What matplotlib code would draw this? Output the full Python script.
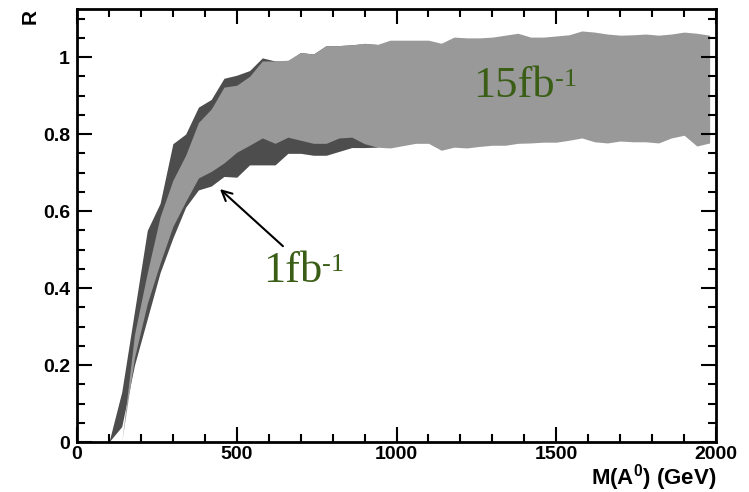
import numpy as np
import matplotlib
matplotlib.use("Agg")
from matplotlib import pyplot as plt
from matplotlib.ticker import MultipleLocator

# band edges, 40 GeV steps
mass_1fb = [100, 140, 180, 220, 260, 300, 340, 380, 420, 460, 500, 540, 580, 620,
            660, 700, 740, 780, 820, 860, 900, 940]
lo_1fb = [0.0, 0.04, 0.20, 0.32, 0.44, 0.53, 0.61, 0.655, 0.665, 0.69, 0.688, 0.72,
          0.72, 0.72, 0.75, 0.75, 0.745, 0.745, 0.755, 0.765, 0.765, 0.766]
hi_1fb = [0.0, 0.13, 0.34, 0.55, 0.62, 0.775, 0.80, 0.87, 0.89, 0.945, 0.953, 0.965,
          0.998, 0.99, 0.99, 1.012, 1.008, 1.03, 1.03, 1.032, 1.035, 1.033]

mass_15fb = [140, 180, 220, 260, 300, 340, 380, 420, 460, 500, 540, 580, 620, 660,
             700, 740, 780, 820, 860, 900, 940, 980, 1020, 1060, 1100, 1140, 1180,
             1220, 1260, 1300, 1340, 1380, 1420, 1460, 1500, 1540, 1580, 1620, 1660,
             1700, 1740, 1780, 1820, 1860, 1900, 1940, 1980]
lo_15fb = [0.0, 0.22, 0.36, 0.465, 0.56, 0.625, 0.686, 0.703, 0.725, 0.753, 0.771,
           0.79, 0.776, 0.792, 0.784, 0.776, 0.776, 0.79, 0.792, 0.775, 0.766, 0.764,
           0.77, 0.776, 0.776, 0.758, 0.766, 0.764, 0.768, 0.771, 0.771, 0.776, 0.777,
           0.779, 0.779, 0.784, 0.79, 0.78, 0.777, 0.782, 0.78, 0.78, 0.777, 0.79,
           0.797, 0.769, 0.777]
hi_15fb = [0.0, 0.28, 0.44, 0.585, 0.68, 0.745, 0.83, 0.865, 0.922, 0.927, 0.95,
           0.99, 0.99, 0.992, 1.012, 1.008, 1.03, 1.03, 1.032, 1.036, 1.033, 1.044,
           1.044, 1.044, 1.044, 1.036, 1.052, 1.05, 1.05, 1.052, 1.057, 1.062, 1.052,
           1.052, 1.055, 1.058, 1.068, 1.065, 1.06, 1.057, 1.058, 1.06, 1.057, 1.06,
           1.065, 1.062, 1.057]

green = '#3b5e17'

fig = plt.figure(figsize=(7.49, 4.92), dpi=100)
ax = fig.add_axes([0.1028, 0.1016, 0.8532, 0.8801])

ax.fill_between(mass_1fb, lo_1fb, hi_1fb, color='#4d4d4d', linewidth=0)
ax.fill_between(mass_15fb, lo_15fb, hi_15fb, color='#999999', linewidth=0)


def lumi_label(x, y, base):
    # main text plus a plain hyphen superscript (ROOT style "-1")
    t = ax.text(x, y, base, family='Liberation Serif', fontsize=32, color=green)
    ax.annotate('-1', xy=(1.0, 0.5), xycoords=t, va='baseline', ha='left',
                family='Liberation Serif', fontsize=19, color=green)


lumi_label(1239, 0.896, '15fb')
lumi_label(582, 0.416, '1fb')
ax.annotate('', xy=(441, 0.662), xytext=(651, 0.504),
            arrowprops=dict(arrowstyle='->', color='black', lw=1.5,
                            mutation_scale=18))

ax.set_xlim(0, 2000)
ax.set_ylim(0, 1.125)
ax.xaxis.set_major_locator(MultipleLocator(500))
ax.xaxis.set_minor_locator(MultipleLocator(100))
ax.yaxis.set_minor_locator(MultipleLocator(0.05))
ax.set_yticks([0, 0.2, 0.4, 0.6, 0.8, 1.0])
ax.set_yticklabels(['0', '0.2', '0.4', '0.6', '0.8', '1'])

ax.tick_params(which='both', direction='in', top=True, right=True, width=1.5,
               labelsize=14)
ax.tick_params(which='major', length=11)
ax.tick_params(which='minor', length=6)
ax.tick_params(axis='y', pad=5)
ax.tick_params(axis='x', pad=3)
for lab in ax.get_xticklabels() + ax.get_yticklabels():
    lab.set_family('Liberation Sans')
    lab.set_fontweight('bold')
for sp in ax.spines.values():
    sp.set_linewidth(2)

# axis titles placed in figure pixels, ROOT style
fig.text(716 / 749, 1 - 478 / 492, r'M(A$^{\mathregular{0}}$) (GeV)',
         family='Liberation Sans', fontweight='bold', fontsize=16,
         ha='right', va='center')
fig.text(30 / 749, 1 - 17 / 492, 'R', family='Liberation Sans',
         fontweight='bold', fontsize=15, rotation=90, ha='center', va='center')

fig.savefig('out.png', dpi=100)
